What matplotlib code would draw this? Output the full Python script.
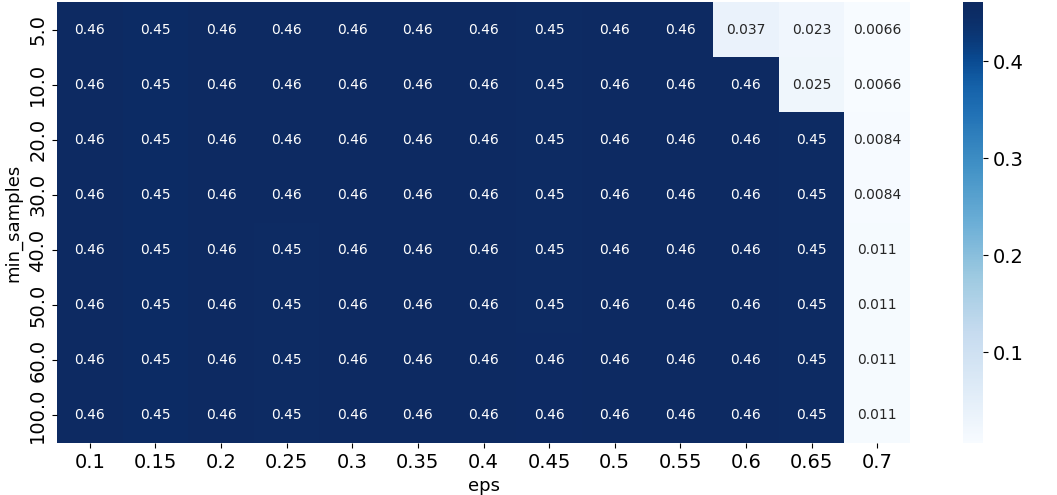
import numpy as np
import matplotlib
matplotlib.use("Agg")
import matplotlib.pyplot as plt
from matplotlib.colors import LinearSegmentedColormap, to_rgb
import seaborn as sns

eps = ["0.1", "0.15", "0.2", "0.25", "0.3", "0.35", "0.4", "0.45", "0.5", "0.55", "0.6", "0.65", "0.7"]
min_samples = ["5.0", "10.0", "20.0", "30.0", "40.0", "50.0", "60.0", "100.0"]

row_5   = [0.459, 0.453, 0.459, 0.460, 0.461, 0.461, 0.461, 0.454, 0.461, 0.461, 0.037, 0.023, 0.0066]
row_10  = [0.459, 0.453, 0.459, 0.460, 0.461, 0.461, 0.461, 0.454, 0.461, 0.461, 0.461, 0.025, 0.0066]
row_20  = [0.459, 0.453, 0.459, 0.460, 0.461, 0.461, 0.461, 0.454, 0.461, 0.461, 0.461, 0.454, 0.0084]
row_30  = [0.459, 0.453, 0.459, 0.460, 0.461, 0.461, 0.461, 0.454, 0.461, 0.461, 0.461, 0.454, 0.0084]
row_40  = [0.459, 0.453, 0.459, 0.454, 0.461, 0.461, 0.461, 0.454, 0.461, 0.461, 0.461, 0.454, 0.011]
row_50  = [0.459, 0.453, 0.459, 0.454, 0.461, 0.461, 0.461, 0.454, 0.461, 0.461, 0.461, 0.454, 0.011]
row_60  = [0.459, 0.453, 0.459, 0.454, 0.461, 0.461, 0.461, 0.457, 0.461, 0.461, 0.461, 0.454, 0.011]
row_100 = [0.459, 0.453, 0.459, 0.454, 0.461, 0.461, 0.461, 0.457, 0.461, 0.461, 0.461, 0.454, 0.011]

data = np.array([row_5, row_10, row_20, row_30, row_40, row_50, row_60, row_100])

# Blues, with its darkest end shifted toward the deeper navy seen in the reference
base = plt.get_cmap("Blues")
xs = np.linspace(0, 1, 256)
cols = np.array([base(x)[:3] for x in xs])
navy = np.array(to_rgb("#0d2a62"))
w = np.clip((xs - 0.8) / 0.2, 0, 1)[:, None] ** 1.5
cols = cols * (1 - w) + navy * w
cmap = LinearSegmentedColormap.from_list("blues_navy", cols)

fig = plt.figure(figsize=(10.57, 4.95), dpi=100)
ax = fig.add_axes([57/1057, 1 - 443/495, (910-57)/1057, (443-2)/495])
cax = fig.add_axes([963/1057, 1 - 443/495, 20/1057, (443-2)/495])

sns.heatmap(data, annot=True, cmap=cmap, ax=ax, cbar_ax=cax,
            xticklabels=eps, yticklabels=min_samples,
            annot_kws={"fontsize": 10})

ax.set_xlabel("eps", fontsize=13)
ax.set_ylabel("min_samples", fontsize=13)
ax.tick_params(axis="x", labelsize=14, rotation=0)
ax.tick_params(axis="y", labelsize=14, rotation=90)
for t in ax.get_yticklabels():
    t.set_va("center")
cax.tick_params(labelsize=14)
cax.set_yticks([0.1, 0.2, 0.3, 0.4])

fig.savefig("out.png", dpi=100)
